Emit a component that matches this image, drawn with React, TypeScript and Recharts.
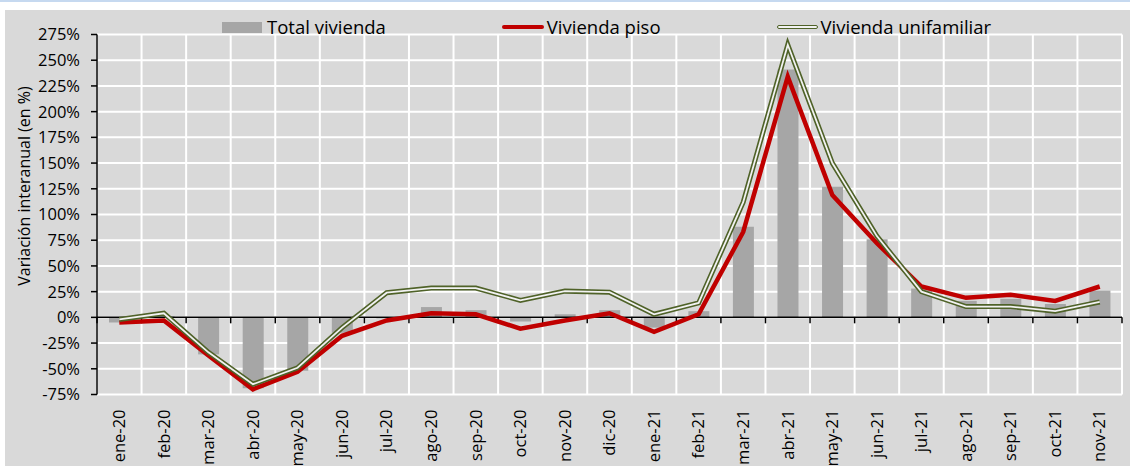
import React from 'react'
import { ComposedChart, Bar, Line, XAxis, YAxis, CartesianGrid, ReferenceLine } from 'recharts'

const meses = ['ene-20', 'feb-20', 'mar-20', 'abr-20', 'may-20', 'jun-20', 'jul-20', 'ago-20', 'sep-20', 'oct-20', 'nov-20', 'dic-20',
  'ene-21', 'feb-21', 'mar-21', 'abr-21', 'may-21', 'jun-21', 'jul-21', 'ago-21', 'sep-21', 'oct-21', 'nov-21']
const totalVivienda = [-5, 1, -36, -69, -52, -15, -1, 10, 7, -4, 3, 7, -10, 6, 88, 241, 127, 76, 28, 16, 18, 13, 26]
const viviendaPiso = [-5, -3, -37, -70, -53, -18, -3, 4, 3, -11, -3, 4, -14, 3, 83, 234, 119, 72, 30, 19, 22, 16, 30]
const viviendaUnifamiliar = [-2, 4, -34, -65, -49, -10, 24, 28.5, 28.5, 16.5, 25.5, 24.5, 3, 14, 112, 265, 150, 79, 25, 10.5, 10.5, 6, 15]
const yTicks = [-75, -50, -25, 0, 25, 50, 75, 100, 125, 150, 175, 200, 225, 250, 275]

const data = meses.map((mes, i) => ({
  mes,
  total: totalVivienda[i],
  piso: viviendaPiso[i],
  unifamiliar: viviendaUnifamiliar[i],
}))

// category boundaries, used for the grid and the small ticks on the 0% line
const limites = Array.from({ length: meses.length + 1 }, (_, i) => i)

const FONT = '"Open Sans", sans-serif'

const MesTick = ({ x, y, payload }: any) => (
  <text x={x} y={y} transform={`rotate(-90, ${x}, ${y})`} textAnchor="end" dy="0.35em"
    fontFamily={FONT} fontSize={16.5} fill="#000">
    {payload.value}
  </text>
)

const YTitle = () => (
  <text x={24} y={186} transform="rotate(-90, 24, 186)" textAnchor="middle" dominantBaseline="central"
    fontFamily={FONT} fontSize={16} fill="#000">
    Variación interanual (en %)
  </text>
)

function Leyenda() {
  const item: React.CSSProperties = { display: 'flex', alignItems: 'center', whiteSpace: 'nowrap' }
  return (
    <div style={{ position: 'absolute', top: 14, left: 222, display: 'flex', gap: 116, fontFamily: FONT, fontSize: 18.5, lineHeight: '22px', color: '#000' }}>
      <div style={item}>
        <span style={{ width: 40, height: 11, background: '#a6a6a6', marginRight: 5 }} />
        Total vivienda
      </div>
      <div style={item}>
        <span style={{ width: 42, height: 4.5, background: '#c00000', borderRadius: 2, marginRight: 3 }} />
        Vivienda piso
      </div>
      <div style={item}>
        <span style={{ width: 39, height: 2, border: '1.5px solid #4f6228', background: '#f2f2f2', borderRadius: 3, marginRight: 3 }} />
        Vivienda unifamiliar
      </div>
    </div>
  )
}

export default function App() {
  return (
    <div style={{ position: 'absolute', left: 0, top: 0, width: 1130, height: 466, background: '#fff', borderTop: '2px solid #c6d9f0', boxSizing: 'border-box', overflow: 'hidden' }}>
      <div style={{ position: 'absolute', left: 5, top: 8, right: 0, bottom: 0, background: '#d9d9d9' }} />
      <div style={{ position: 'absolute', left: 0, top: -2 }}>
        <ComposedChart width={1130} height={466} data={data} margin={{ top: 34.5, right: 8, bottom: 0, left: 37 }}>
          <CartesianGrid stroke="#fff" strokeWidth={2}
            verticalCoordinatesGenerator={({ offset }: any) => limites.map(i => offset.left + (i * offset.width) / meses.length)} />
          <XAxis dataKey="mes" interval={0} height={71.5} axisLine={false} tickLine={false} tickSize={0} tickMargin={15} tick={<MesTick />} />
          <XAxis xAxisId="n" type="number" dataKey="total" domain={[0, meses.length]} allowDataOverflow hide />
          <YAxis domain={[-75, 275]} ticks={yTicks} interval={0} width={60} tickFormatter={(v) => `${v}%`}
            axisLine={{ stroke: '#000', strokeWidth: 1.5 }} tickLine={{ stroke: '#000', strokeWidth: 1.5 }} tickSize={6} tickMargin={11}
            tick={{ fill: '#000', fontSize: 16.5, fontFamily: FONT }} label={<YTitle />} />
          <Bar dataKey="total" fill="#a6a6a6" barSize={21} isAnimationActive={false} />
          <ReferenceLine y={0} stroke="#000" strokeWidth={1.5} />
          {limites.map(i => (
            <ReferenceLine key={i} xAxisId="n" segment={[{ x: i, y: 0 }, { x: i, y: -5.8 }]} stroke="#000" strokeWidth={1.5} />
          ))}
          <Line dataKey="piso" stroke="#c00000" strokeWidth={4.5} dot={false} isAnimationActive={false} />
          <Line dataKey="unifamiliar" stroke="#4f6228" strokeWidth={5} dot={false} isAnimationActive={false} />
          <Line dataKey="unifamiliar" stroke="#f2f2f2" strokeWidth={1.8} dot={false} legendType="none" isAnimationActive={false} />
        </ComposedChart>
      </div>
      <Leyenda />
    </div>
  )
}
